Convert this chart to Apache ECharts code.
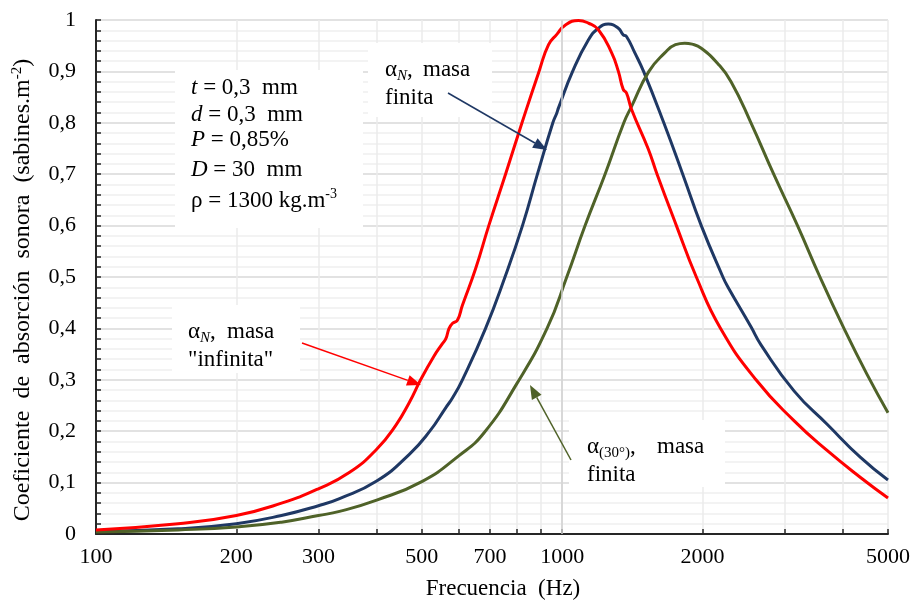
<!DOCTYPE html>
<html>
<head>
<meta charset="utf-8">
<script src="https://cdn.jsdelivr.net/npm/echarts@6/dist/echarts.min.js"></script>
<style>html,body{margin:0;padding:0;background:#fff}#c{width:913px;height:605px}</style>
</head>
<body>
<div id="c"></div>
<script>
// ---- data ----
const redFreq = [100,150,200,250,300,350,400,440,470,497,530,553,563,572,582,596,611,652,696,756,820,892,935,974,1015,1084,1138,1196,1277,1320,1352,1374,1409,1530,1598,1758,1940,2187,2605,3146,3706,4365,5000];
const redVal  = [0.008,0.020,0.036,0.060,0.088,0.120,0.165,0.212,0.256,0.300,0.345,0.370,0.380,0.400,0.410,0.416,0.445,0.516,0.600,0.700,0.800,0.900,0.952,0.972,0.990,0.999,0.994,0.981,0.936,0.900,0.865,0.858,0.826,0.749,0.700,0.600,0.500,0.400,0.300,0.220,0.162,0.110,0.070];

const blueFreq = [100,150,200,250,300,333,400,470,520,563,582,611,685,754,822,885,955,974,982,1053,1138,1196,1256,1320,1352,1374,1432,1495,1652,1814,1988,2212,2266,2541,2670,3146,3706,4365,5000];
const blueVal  = [0.005,0.010,0.020,0.036,0.055,0.069,0.103,0.155,0.200,0.246,0.265,0.300,0.400,0.500,0.600,0.700,0.800,0.819,0.829,0.900,0.961,0.984,0.992,0.984,0.971,0.968,0.936,0.900,0.800,0.700,0.600,0.500,0.481,0.403,0.368,0.278,0.213,0.149,0.105];

const greenFreq = [100,150,200,250,300,333,400,500,600,680,800,928,1023,1120,1236,1356,1409,1535,1660,1750,1832,1900,1988,2158,2303,2541,2843,3198,3573,4022,4511,5000];
const greenVal  = [0.004,0.008,0.0135,0.023,0.036,0.044,0.066,0.102,0.152,0.197,0.293,0.400,0.500,0.600,0.700,0.800,0.832,0.900,0.936,0.952,0.955,0.953,0.945,0.915,0.880,0.800,0.700,0.600,0.500,0.400,0.310,0.236];

const xTickValues  = [100,200,300,400,500,600,700,800,900,1000,2000,3000,4000,5000];
const xLabelValues = [100,200,300,500,700,1000,2000,5000];
const highlightFreq = [1000];

const FONT = '"Liberation Serif", "Times New Roman", serif';
const pair = (xs, ys) => xs.map((x, i) => [x, ys[i]]);

const chart = echarts.init(document.getElementById('c'), null, {renderer: 'canvas'});

function arrow(x1, y1, x2, y2, color, w, headLen, headW) {
  const dx = x2 - x1, dy = y2 - y1, L = Math.hypot(dx, dy);
  const ux = dx / L, uy = dy / L;
  const bx = x2 - ux * headLen, by = y2 - uy * headLen;
  const px = -uy, py = ux;
  return [
    {type: 'line', z: 10, silent: true, shape: {x1: x1, y1: y1, x2: bx, y2: by}, style: {stroke: color, lineWidth: w}},
    {type: 'polygon', z: 10, silent: true, shape: {points: [[x2, y2], [bx + px * headW / 2, by + py * headW / 2], [bx - px * headW / 2, by - py * headW / 2]]}, style: {fill: color}}
  ];
}

const rich = {
  n: {fontFamily: FONT, fontSize: 23, color: '#000', lineHeight: 28, verticalAlign: 'middle'},
  i: {fontFamily: FONT, fontSize: 23, color: '#000', fontStyle: 'italic', lineHeight: 28, verticalAlign: 'middle'},
  sup: {fontFamily: FONT, fontSize: 14, color: '#000', lineHeight: 14, verticalAlign: 'top'},
  sub: {fontFamily: FONT, fontSize: 15, color: '#000', lineHeight: 15, verticalAlign: 'bottom'},
  subi: {fontFamily: FONT, fontSize: 15, color: '#000', fontStyle: 'italic', lineHeight: 15, verticalAlign: 'bottom'}
};
function txt(x, y, text) {
  return {type: 'text', z: 11, silent: true, x: x, y: y,
    style: {text: text, rich: rich, fontFamily: FONT, fontSize: 23, fill: '#000', verticalAlign: 'middle', align: 'left'}};
}
function box(x, y, w, h) {
  return {type: 'rect', z: 9, silent: true, shape: {x: x, y: y, width: w, height: h}, style: {fill: '#fff'}};
}

const graphics = [
  box(175, 70, 188, 158),
  txt(191, 88, '{i|t}{n| = 0,3  mm}'),
  txt(191, 115, '{i|d}{n| = 0,3  mm}'),
  txt(191, 140, '{i|P}{n| = 0,85%}'),
  txt(191, 170, '{i|D}{n| = 30  mm}'),
  txt(191, 201, '{n|ρ = 1300 kg.m}{sup|-3}'),

  box(368, 43, 124, 74),
  txt(385, 70, '{n|α}{subi|N}{n|,}'),
  txt(423, 70, '{n|masa}'),
  txt(385, 98, '{n|finita}'),

  box(172, 305, 128, 68),
  txt(188, 332, '{n|α}{subi|N}{n|,}'),
  txt(227, 332, '{n|masa}'),
  txt(188, 360, '{n|"infinita"}'),

  box(569, 420, 156, 67),
  txt(587, 447, '{n|α}{sub|(30°)}{n|,}'),
  txt(657, 447, '{n|masa}'),
  txt(587, 475, '{n|finita}')
].concat(
  arrow(448, 93, 547, 150, '#1F3864', 1.5, 14, 11),
  arrow(302, 343, 421, 385, '#FF0000', 1.5, 14, 11),
  arrow(571, 460, 530, 385, '#4F6228', 1.5, 14, 11)
);

const option = {
  animation: false,
  backgroundColor: '#fff',
  grid: {left: 96, right: 22, top: 20, bottom: 67, containLabel: false},
  xAxis: {
    type: 'log', logBase: 10, min: 100, max: 5000,
    name: 'Frecuencia  (Hz)', nameLocation: 'middle', nameGap: 43,
    nameTextStyle: {fontFamily: FONT, fontSize: 23, color: '#000', padding: [0, 0, 0, 22]},
    axisLine: {show: true, onZero: false, lineStyle: {color: '#262626', width: 2}},
    axisTick: {show: true, inside: true, length: 5, customValues: xTickValues, lineStyle: {color: '#262626', width: 1.5}},
    axisLabel: {customValues: xLabelValues, fontFamily: FONT, fontSize: 22, color: '#000', margin: 12,
      formatter: v => String(Math.round(v))},
    splitLine: {show: true, lineStyle: {color: '#ebebeb', width: 1.5}},
    minorTick: {show: false}, minorSplitLine: {show: false}
  },
  yAxis: {
    type: 'value', min: 0, max: 1, interval: 0.1,
    name: '{a|Coeficiente  de  absorción  sonora  (sabines.m}{s|-2}{a|)}',
    nameLocation: 'middle', nameGap: 60,
    nameTextStyle: {padding: [0, 26, 0, 0], rich: {
      a: {fontFamily: FONT, fontSize: 24, color: '#000', lineHeight: 26, verticalAlign: 'middle'},
      s: {fontFamily: FONT, fontSize: 15, color: '#000', lineHeight: 15, verticalAlign: 'top'}
    }},
    axisLine: {show: true, lineStyle: {color: '#262626', width: 2}},
    axisTick: {show: true, inside: true, length: 5, lineStyle: {color: '#262626', width: 1.5}},
    minorTick: {show: true, splitNumber: 5, length: 5, lineStyle: {color: '#262626', width: 1.5}},
    axisLabel: {fontFamily: FONT, fontSize: 22, color: '#000', margin: 20,
      formatter: v => (Math.abs(v) < 1e-9 ? '0' : Math.abs(v - 1) < 1e-9 ? '1' : v.toFixed(1).replace('.', ','))},
    splitLine: {show: true, lineStyle: {color: '#d9d9d9', width: 1.5}},
    minorSplitLine: {show: true, lineStyle: {color: '#f0f0f0', width: 1.5}}
  },
  series: [
    {type: 'line', name: 'ref1000', data: [], z: 1, silent: true,
      markLine: {silent: true, symbol: ['none', 'none'], label: {show: false}, animation: false,
        lineStyle: {color: '#d0d0d0', width: 1.5, type: 'solid'},
        data: highlightFreq.map(f => ({xAxis: f}))}},
    {type: 'line', name: 'αN, masa "infinita"', data: pair(redFreq, redVal), showSymbol: false, smooth: 0.5,
      lineStyle: {color: '#FF0000', width: 3}, itemStyle: {color: '#FF0000'}, z: 4},
    {type: 'line', name: 'αN, masa finita', data: pair(blueFreq, blueVal), showSymbol: false, smooth: 0.5,
      lineStyle: {color: '#1F3864', width: 3}, itemStyle: {color: '#1F3864'}, z: 3},
    {type: 'line', name: 'α(30°), masa finita', data: pair(greenFreq, greenVal), showSymbol: false, smooth: 0.5,
      lineStyle: {color: '#4F6228', width: 3}, itemStyle: {color: '#4F6228'}, z: 3}
  ],
  graphic: graphics
};
chart.setOption(option);
</script>
</body>
</html>
